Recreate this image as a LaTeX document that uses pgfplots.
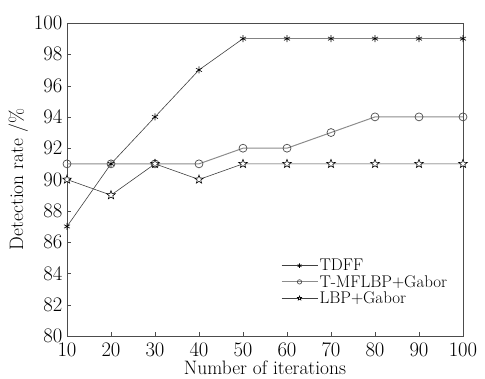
\documentclass[border=0pt]{standalone}
\usepackage{pgfplots}
\pgfplotsset{compat=1.18}
\pgfdeclareplotmark{ostar}{%
  \pgfpathmoveto{\pgfqpointpolar{90}{\pgfplotmarksize}}%
  \pgfpathlineto{\pgfqpointpolar{126}{0.42\pgfplotmarksize}}%
  \pgfpathlineto{\pgfqpointpolar{162}{\pgfplotmarksize}}%
  \pgfpathlineto{\pgfqpointpolar{198}{0.42\pgfplotmarksize}}%
  \pgfpathlineto{\pgfqpointpolar{234}{\pgfplotmarksize}}%
  \pgfpathlineto{\pgfqpointpolar{270}{0.42\pgfplotmarksize}}%
  \pgfpathlineto{\pgfqpointpolar{306}{\pgfplotmarksize}}%
  \pgfpathlineto{\pgfqpointpolar{342}{0.42\pgfplotmarksize}}%
  \pgfpathlineto{\pgfqpointpolar{18}{\pgfplotmarksize}}%
  \pgfpathlineto{\pgfqpointpolar{54}{0.42\pgfplotmarksize}}%
  \pgfpathclose
  \pgfusepathqfillstroke
}
\begin{document}
\begin{tikzpicture}
\begin{axis}[
  scale only axis,
  width=396bp, height=313bp,
  xmin=10, xmax=100, ymin=80, ymax=100,
  xtick={10,20,...,100}, ytick={80,82,...,100},
  tick pos=left, tick align=inside,
  major tick length=4bp,
  tick style={black!70},
  tick label style={font=\fontsize{19.5}{19.5}\selectfont, inner sep=0.5pt},
  xticklabel style={yshift=-6bp},
  yticklabel style={xshift=-4bp},
  label style={font=\fontsize{19.5}{19.5}\selectfont},
  xlabel={Number of iterations}, ylabel={Detection rate /\%},
  xlabel style={at={(axis description cs:0.5,-0.1)}, anchor=center, inner sep=0pt},
  ylabel style={at={(axis description cs:-0.123,0.5)}, anchor=center},
  axis line style={black!70, line width=0.8pt},
  legend style={draw=none, fill=none, at={(axis description cs:0.54,0.1725)}, anchor=west, inner xsep=0pt, inner ysep=0pt,
    font=\fontsize{17}{17}\selectfont, row sep=0pt,
    nodes={inner sep=1.5bp}},
  legend cell align=left,
  legend image code/.code={%
    \draw[mark repeat=2,mark phase=2,#1,mark size=2.2pt] plot coordinates {(0bp,0bp) (18bp,0bp) (36bp,0bp)};},
]
\addplot[black!75, line width=0.6pt, mark=asterisk, mark size=3.5pt, mark options={black}] coordinates {(10,87)(20,91)(30,94)(40,97)(50,99)(60,99)(70,99)(80,99)(90,99)(100,99)};
\addlegendentry{TDFF}
\addplot[black!45, line width=1pt, mark=o, mark size=4pt, mark options={black!70, fill=white, line width=0.7pt}] coordinates {(10,91)(20,91)(30,91)(40,91)(50,92)(60,92)(70,93)(80,94)(90,94)(100,94)};
\addlegendentry{T-MFLBP+Gabor}
\addplot[black!75, line width=0.6pt, mark=ostar, mark size=4.5pt, mark options={black, fill=white}] coordinates {(10,90)(20,89)(30,91)(40,90)(50,91)(60,91)(70,91)(80,91)(90,91)(100,91)};
\addlegendentry{LBP+Gabor}
\end{axis}
\pgfresetboundingbox
\path ([xshift=-67bp,yshift=-42bp]current axis.south west) rectangle ([xshift=22bp,yshift=23bp]current axis.north east);
\end{tikzpicture}
\end{document}
